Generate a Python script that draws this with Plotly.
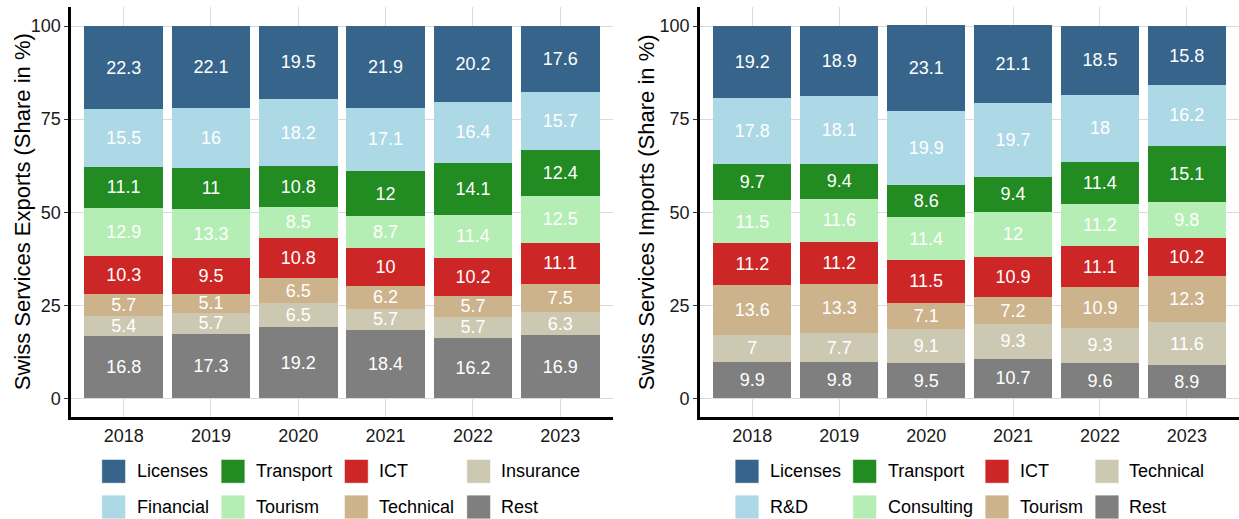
import plotly.graph_objects as go

years = ["2018", "2019", "2020", "2021", "2022", "2023"]

# Exports (stack order bottom -> top)
exp_categories = ["Rest", "Insurance", "Technical", "ICT", "Tourism", "Transport", "Financial", "Licenses"]
exp_rest = [16.8, 17.3, 19.2, 18.4, 16.2, 16.9]
exp_insurance = [5.4, 5.7, 6.5, 5.7, 5.7, 6.3]
exp_technical = [5.7, 5.1, 6.5, 6.2, 5.7, 7.5]
exp_ict = [10.3, 9.5, 10.8, 10, 10.2, 11.1]
exp_tourism = [12.9, 13.3, 8.5, 8.7, 11.4, 12.5]
exp_transport = [11.1, 11, 10.8, 12, 14.1, 12.4]
exp_financial = [15.5, 16, 18.2, 17.1, 16.4, 15.7]
exp_licenses = [22.3, 22.1, 19.5, 21.9, 20.2, 17.6]
exp_values = [exp_rest, exp_insurance, exp_technical, exp_ict, exp_tourism,
              exp_transport, exp_financial, exp_licenses]

# Imports (stack order bottom -> top)
imp_categories = ["Rest", "Technical", "Tourism", "ICT", "Consulting", "Transport", "R&D", "Licenses"]
imp_rest = [9.9, 9.8, 9.5, 10.7, 9.6, 8.9]
imp_technical = [7, 7.7, 9.1, 9.3, 9.3, 11.6]
imp_tourism = [13.6, 13.3, 7.1, 7.2, 10.9, 12.3]
imp_ict = [11.2, 11.2, 11.5, 10.9, 11.1, 10.2]
imp_consulting = [11.5, 11.6, 11.4, 12, 11.2, 9.8]
imp_transport = [9.7, 9.4, 8.6, 9.4, 11.4, 15.1]
imp_rd = [17.8, 18.1, 19.9, 19.7, 18, 16.2]
imp_licenses = [19.2, 18.9, 23.1, 21.1, 18.5, 15.8]
imp_values = [imp_rest, imp_technical, imp_tourism, imp_ict, imp_consulting,
              imp_transport, imp_rd, imp_licenses]

# colours by stack position (bottom -> top)
colors = ["#7F7F7F", "#CDC8B1", "#CDB38B", "#CD2626", "#B4EEB4", "#228B22", "#ADD8E6", "#36648B"]

exp_title = "Swiss Services Exports (Share in %)"
imp_title = "Swiss Services Imports (Share in %)"

W, H = 1239, 519
FONT = "Liberation Sans, Arial, sans-serif"


def px_x(p):
    return p / W


def px_y(p):
    return (H - p) / H


fig = go.Figure()

for cats, vals, xa, ya in [(exp_categories, exp_values, "x", "y"),
                           (imp_categories, imp_values, "x2", "y2")]:
    for name, v, c in zip(cats, vals, colors):
        fig.add_trace(go.Bar(
            x=years, y=v, name=name, marker=dict(color=c, line=dict(width=0)),
            text=[f"{t:g}" for t in v], textposition="inside",
            insidetextanchor="middle", textangle=0,
            textfont=dict(color="white", size=18, family=FONT),
            xaxis=xa, yaxis=ya, showlegend=False, hoverinfo="x+y+name",
        ))

ydom = [px_y(417), px_y(7.4)]
axis_common = dict(showline=True, linecolor="black", linewidth=3,
                   showgrid=True, gridcolor="#DBDBDB", gridwidth=1.2,
                   tickfont=dict(size=18, color="#1a1a1a", family=FONT))
fig.update_layout(
    width=W, height=H,
    margin=dict(l=0, r=0, t=0, b=0),
    paper_bgcolor="white", plot_bgcolor="white",
    barmode="stack", bargap=0.1,
    uniformtext=dict(minsize=18, mode="show"),
    font=dict(family=FONT, color="black"),
    xaxis=dict(domain=[px_x(71.3), px_x(612.6)], anchor="y", type="category",
               range=[-0.6, 5.6], ticks="", **axis_common),
    xaxis2=dict(domain=[px_x(700.2), 1.0], anchor="y2", type="category",
                range=[-0.6, 5.6], ticks="", **axis_common),
    yaxis=dict(domain=ydom, anchor="x", range=[-5, 105], tickvals=[0, 25, 50, 75, 100],
               ticks="outside", ticklen=4, tickcolor="#333", tickwidth=1.2,
               zeroline=False, **axis_common),
    yaxis2=dict(domain=ydom, anchor="x2", range=[-5, 105], tickvals=[0, 25, 50, 75, 100],
                ticks="outside", ticklen=4, tickcolor="#333", tickwidth=1.2,
                zeroline=False, **axis_common),
)

annotations = []
shapes = []

# y-axis titles
for title, cx in [(exp_title, 22), (imp_title, 646)]:
    annotations.append(dict(text=title, x=px_x(cx), y=(ydom[0] + ydom[1]) / 2,
                            xref="paper", yref="paper", textangle=-90,
                            showarrow=False, xanchor="center", yanchor="middle",
                            font=dict(size=22, color="black", family=FONT)))


# legends (2 rows x 4 columns, filled column-wise from the top of the stack)
def add_legend(cats, sw_x, tx_x):
    order = list(reversed(range(len(cats))))  # Licenses first
    rows_y = [471.3, 507.0]
    for k, idx in enumerate(order):
        col, row = k // 2, k % 2
        cy = rows_y[row]
        x0 = sw_x[col]
        shapes.append(dict(type="rect", xref="paper", yref="paper",
                           x0=px_x(x0), x1=px_x(x0 + 24),
                           y0=px_y(cy + 12), y1=px_y(cy - 12),
                           fillcolor=colors[idx], line=dict(width=0.8, color="white")))
        annotations.append(dict(text=cats[idx], x=px_x(tx_x[col] - 2), y=px_y(cy),
                                xref="paper", yref="paper", showarrow=False,
                                xanchor="left", yanchor="middle",
                                font=dict(size=18, color="black", family=FONT)))


add_legend(exp_categories, [101.7, 221.0, 344.3, 466.7], [136.7, 255.7, 379.3, 501.0])
add_legend(imp_categories, [735.0, 852.7, 985.0, 1095.0], [770.0, 887.7, 1020.0, 1129.3])

fig.update_layout(annotations=annotations, shapes=shapes)

fig.write_html("out.html",
               config={"displayModeBar": False},
               post_script="document.body.style.margin='0';document.body.style.overflow='hidden';")
